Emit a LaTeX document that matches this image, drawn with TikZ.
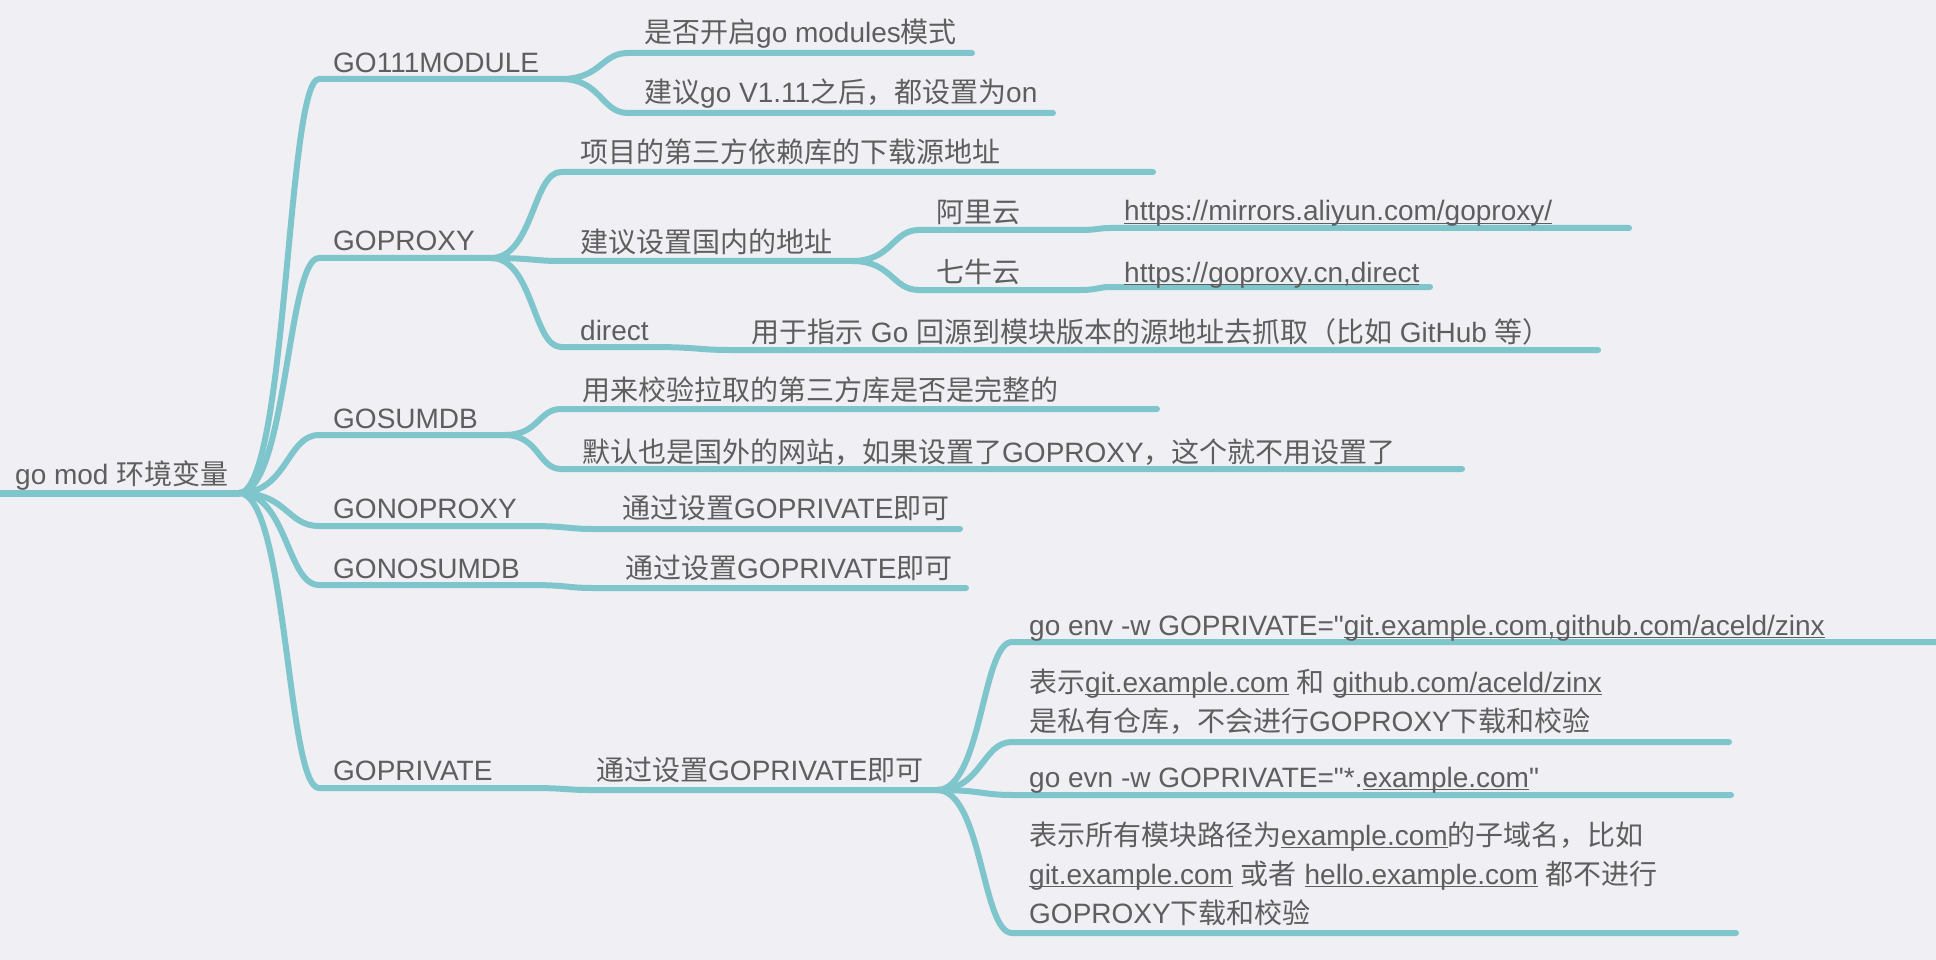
\documentclass[tikz,border=0pt]{standalone}
\usepackage{fontspec}
\setmainfont{Liberation Sans}[Ligatures=TeXOff]
\newfontfamily\cjkfont{Noto Sans CJK SC}
\usepackage{xcolor}
\usepackage{tikz}
\usetikzlibrary{calc}
\definecolor{bgcolor}{RGB}{239,239,244}
\definecolor{linecolor}{RGB}{127,198,204}
\definecolor{textgray}{RGB}{94,94,94}
\newcommand\zh[1]{{\cjkfont #1}}
\newcommand\ulink[1]{\setbox0\hbox{#1}\rlap{\rule[-3pt]{\wd0}{1.3pt}}\box0\relax}
\newcommand\lines[1]{\vtop{\baselineskip=39pt\halign{##\hfil\cr#1\crcr}}}
\tikzset{
  topic/.style={
    anchor=base west,
    inner sep=0pt,
    text=textgray,
    font=\fontsize{28}{39}\selectfont
  },
  stem/.style={
    draw=linecolor,
    line width=6pt,
    line cap=round,
    line join=round
  },
  branch/.style={
    to path={.. controls ($(\tikztostart)!0.6!(\tikztostart -| \tikztotarget)$)
      and ($(\tikztotarget)!0.4!(\tikztotarget -| \tikztostart)$) .. (\tikztotarget)}
  }
}

\begin{document}
\begin{tikzpicture}[x=1pt, y=-1pt]

  \clip (0,0) rectangle (1936,960);
  \fill[bgcolor] (0,0) rectangle (1936,960);

  % Line ends
  \coordinate (rootS) at (0,493);       \coordinate (rootE) at (239,493);
  \coordinate (modS) at (319,79);       \coordinate (modE) at (561,79);
  \coordinate (proxyS) at (319,258);    \coordinate (proxyE) at (491,258);
  \coordinate (sumdbS) at (319,435);    \coordinate (sumdbE) at (505,435);
  \coordinate (noproxyS) at (319,526);  \coordinate (noproxyE) at (529,526);
  \coordinate (nosumdbS) at (319,585);  \coordinate (nosumdbE) at (529,585);
  \coordinate (privS) at (319,788);     \coordinate (privE) at (530,788);

  \coordinate (modAS) at (628,53);      \coordinate (modAE) at (972,53);
  \coordinate (modBS) at (628,113);     \coordinate (modBE) at (1053,113);

  \coordinate (proxyAS) at (561,172);   \coordinate (proxyAE) at (1153,172);
  \coordinate (proxyBS) at (561,261);   \coordinate (proxyBE) at (852,261);
  \coordinate (aliS) at (919,230);      \coordinate (aliE) at (1080,230);
  \coordinate (aliUrlS) at (1110,228);  \coordinate (aliUrlE) at (1629,228);
  \coordinate (qiniuS) at (919,290);    \coordinate (qiniuE) at (1080,290);
  \coordinate (qiniuUrlS) at (1110,287); \coordinate (qiniuUrlE) at (1430,287);
  \coordinate (directS) at (561,347);   \coordinate (directE) at (650,347);
  \coordinate (directNS) at (730,350);  \coordinate (directNE) at (1598,350);

  \coordinate (sumdbAS) at (561,409);   \coordinate (sumdbAE) at (1157,409);
  \coordinate (sumdbBS) at (561,469);   \coordinate (sumdbBE) at (1462,469);

  \coordinate (noproxyNS) at (593,529); \coordinate (noproxyNE) at (960,529);
  \coordinate (nosumdbNS) at (593,588); \coordinate (nosumdbNE) at (966,588);
  \coordinate (privNS) at (590,790);    \coordinate (privNE) at (937,790);

  \coordinate (privAS) at (1012,642);   \coordinate (privAE) at (1950,642);
  \coordinate (privBS) at (1012,742);   \coordinate (privBE) at (1729,742);
  \coordinate (privCS) at (1012,795);   \coordinate (privCE) at (1731,795);
  \coordinate (privDS) at (1012,933);   \coordinate (privDE) at (1736,933);

  % Root line and main branches
  \draw[stem, line width=7pt] (rootS) -- (rootE);
  \draw[stem] (rootE) to[branch] (modS) -- (modE);
  \draw[stem] (rootE) to[branch] (proxyS) -- (proxyE);
  \draw[stem] (rootE) to[branch] (sumdbS) -- (sumdbE);
  \draw[stem] (rootE) to[branch] (noproxyS) -- (noproxyE);
  \draw[stem] (rootE) to[branch] (nosumdbS) -- (nosumdbE);
  \draw[stem] (rootE) to[branch] (privS) -- (privE);

  % GO111MODULE
  \draw[stem] (modE) to[branch] (modAS) -- (modAE);
  \draw[stem] (modE) to[branch] (modBS) -- (modBE);

  % GOPROXY
  \draw[stem] (proxyE) to[branch] (proxyAS) -- (proxyAE);
  \draw[stem] (proxyE) to[branch] (proxyBS) -- (proxyBE);
  \draw[stem] (proxyBE) to[branch] (aliS) -- (aliE);
  \draw[stem] (aliE) to[branch] (aliUrlS) -- (aliUrlE);
  \draw[stem] (proxyBE) to[branch] (qiniuS) -- (qiniuE);
  \draw[stem] (qiniuE) to[branch] (qiniuUrlS) -- (qiniuUrlE);
  \draw[stem] (proxyE) to[branch] (directS) -- (directE);
  \draw[stem] (directE) to[branch] (directNS) -- (directNE);

  % GOSUMDB
  \draw[stem] (sumdbE) to[branch] (sumdbAS) -- (sumdbAE);
  \draw[stem] (sumdbE) to[branch] (sumdbBS) -- (sumdbBE);

  % GONOPROXY, GONOSUMDB, GOPRIVATE
  \draw[stem] (noproxyE) to[branch] (noproxyNS) -- (noproxyNE);
  \draw[stem] (nosumdbE) to[branch] (nosumdbNS) -- (nosumdbNE);
  \draw[stem] (privE) to[branch] (privNS) -- (privNE);
  \draw[stem] (privNE) to[branch] (privAS) -- (privAE);
  \draw[stem] (privNE) to[branch] (privBS) -- (privBE);
  \draw[stem] (privNE) to[branch] (privCS) -- (privCE);
  \draw[stem] (privNE) to[branch] (privDS) -- (privDE);

  % Labels
  \node[topic] (root) at (15,484) {go mod \zh{环境变量}};

  \node[topic] (mod) at (333,73) {GO111MODULE};
  \node[topic] (proxy) at (333,251) {GOPROXY};
  \node[topic] (sumdb) at (333,428) {GOSUMDB};
  \node[topic] (noproxy) at (333,518) {GONOPROXY};
  \node[topic] (nosumdb) at (333,578) {GONOSUMDB};
  \node[topic] (priv) at (333,780) {GOPRIVATE};

  \node[topic] (modA) at (644,43) {\zh{是否开启}go modules\zh{模式}};
  \node[topic] (modB) at (644,103) {\zh{建议}go V1.11\zh{之后，都设置为}on};

  \node[topic] (proxyA) at (580,163) {\zh{项目的第三方依赖库的下载源地址}};
  \node[topic] (proxyB) at (580,252) {\zh{建议设置国内的地址}};
  \node[topic] (ali) at (936,223) {\zh{阿里云}};
  \node[topic] (aliUrl) at (1124,221) {\ulink{https://mirrors.aliyun.com/goproxy/}};
  \node[topic] (qiniu) at (936,282) {\zh{七牛云}};
  \node[topic] (qiniuUrl) at (1124,282) {\ulink{https://goproxy.cn,direct}};
  \node[topic] (direct) at (580,340) {direct};
  \node[topic] (directN) at (751,342) {\zh{用于指示} Go \zh{回源到模块版本的源地址去抓取（比如} GitHub \zh{等）}};

  \node[topic] (sumdbA) at (582,400) {\zh{用来校验拉取的第三方库是否是完整的}};
  \node[topic] (sumdbB) at (582,462) {\zh{默认也是国外的网站，如果设置了}GOPROXY\zh{，这个就不用设置了}};

  \node[topic] (noproxyN) at (622,518) {\zh{通过设置}GOPRIVATE\zh{即可}};
  \node[topic] (nosumdbN) at (625,578) {\zh{通过设置}GOPRIVATE\zh{即可}};
  \node[topic] (privN) at (596,780) {\zh{通过设置}GOPRIVATE\zh{即可}};

  \node[topic] (privA) at (1029,635) {go env -w GOPRIVATE="\ulink{git.example.com,github.com/aceld/zinx}};
  \node[topic] (privB) at (1029,692) {\lines{\zh{表示}\ulink{git.example.com} \zh{和} \ulink{github.com/aceld/zinx}\cr
    \zh{是私有仓库，不会进行}GOPROXY\zh{下载和校验}}};
  \node[topic] (privC) at (1029,787) {go evn -w GOPRIVATE="*.\ulink{example.com}"};
  \node[topic] (privD) at (1029,845) {\lines{\zh{表示所有模块路径为}\ulink{example.com}\zh{的子域名，比如}\cr
    \ulink{git.example.com} \zh{或者} \ulink{hello.example.com} \zh{都不进行}\cr
    GOPROXY\zh{下载和校验}}};

\end{tikzpicture}
\end{document}
